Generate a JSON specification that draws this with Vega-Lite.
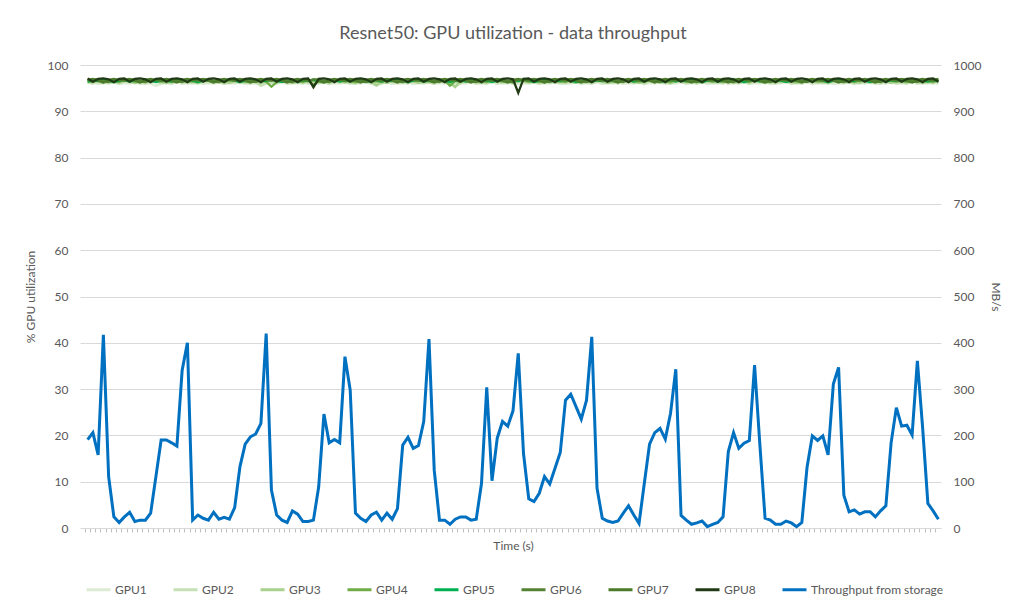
{
"$schema":"https://vega.github.io/schema/vega-lite/v6.json",
"width":856,"height":463,
"autosize":{"type":"none"},
"padding":{"left":85,"top":65,"right":70,"bottom":84},
"background":"white",
"config":{"font":"Lato","view":{"stroke":null},"axis":{"labelColor":"#595959","titleColor":"#595959","labelFontSize":12,"titleFontSize":12,"titleFontWeight":"normal","labelFont":"Lato","titleFont":"Lato"}},
"title":{"text":"Resnet50: GPU utilization - data throughput","fontSize":18,"fontWeight":"normal","color":"#595959","offset":16,"anchor":"middle","font":"Lato"},
"data":{"values":[
{"t":1,"GPU1":96.0,"GPU2":96.2,"GPU3":96.3,"GPU4":96.5,"GPU5":96.4,"GPU6":96.6,"GPU7":96.8,"GPU8":97.1,"tp":191},
{"t":2,"GPU1":96.3,"GPU2":96.0,"GPU3":96.6,"GPU4":96.3,"GPU5":96.7,"GPU6":96.9,"GPU7":97.0,"GPU8":96.4,"tp":206},
{"t":3,"GPU1":95.9,"GPU2":96.4,"GPU3":96.4,"GPU4":96.8,"GPU5":96.5,"GPU6":96.9,"GPU7":96.6,"GPU8":97.0,"tp":158},
{"t":4,"GPU1":96.1,"GPU2":96.3,"GPU3":96.1,"GPU4":96.6,"GPU5":96.9,"GPU6":96.5,"GPU7":96.2,"GPU8":97.1,"tp":417},
{"t":5,"GPU1":96.0,"GPU2":96.1,"GPU3":96.5,"GPU4":96.4,"GPU5":96.6,"GPU6":96.3,"GPU7":96.8,"GPU8":96.9,"tp":111},
{"t":6,"GPU1":96.3,"GPU2":96.2,"GPU3":96.6,"GPU4":96.5,"GPU5":96.3,"GPU6":96.8,"GPU7":97.0,"GPU8":96.3,"tp":24},
{"t":7,"GPU1":95.9,"GPU2":96.0,"GPU3":96.3,"GPU4":96.3,"GPU5":96.6,"GPU6":96.9,"GPU7":96.7,"GPU8":97.0,"tp":12},
{"t":8,"GPU1":96.1,"GPU2":96.4,"GPU3":96.6,"GPU4":96.8,"GPU5":96.8,"GPU6":96.6,"GPU7":96.8,"GPU8":97.1,"tp":24},
{"t":9,"GPU1":96.0,"GPU2":96.3,"GPU3":96.4,"GPU4":96.6,"GPU5":96.4,"GPU6":96.9,"GPU7":97.0,"GPU8":96.4,"tp":34},
{"t":10,"GPU1":96.3,"GPU2":96.1,"GPU3":96.1,"GPU4":96.4,"GPU5":96.7,"GPU6":96.9,"GPU7":96.6,"GPU8":97.0,"tp":14},
{"t":11,"GPU1":95.9,"GPU2":96.2,"GPU3":96.5,"GPU4":96.5,"GPU5":96.5,"GPU6":96.5,"GPU7":96.2,"GPU8":97.1,"tp":17},
{"t":12,"GPU1":96.1,"GPU2":96.0,"GPU3":96.6,"GPU4":96.3,"GPU5":96.9,"GPU6":96.3,"GPU7":96.8,"GPU8":96.9,"tp":17},
{"t":13,"GPU1":96.0,"GPU2":96.4,"GPU3":96.3,"GPU4":96.8,"GPU5":96.6,"GPU6":96.8,"GPU7":97.0,"GPU8":96.3,"tp":32},
{"t":14,"GPU1":95.5,"GPU2":96.3,"GPU3":96.6,"GPU4":96.6,"GPU5":96.3,"GPU6":96.9,"GPU7":96.7,"GPU8":97.0,"tp":111},
{"t":15,"GPU1":95.9,"GPU2":96.1,"GPU3":96.4,"GPU4":96.4,"GPU5":96.6,"GPU6":96.6,"GPU7":96.8,"GPU8":97.1,"tp":190},
{"t":16,"GPU1":96.1,"GPU2":96.2,"GPU3":96.1,"GPU4":96.5,"GPU5":96.8,"GPU6":96.9,"GPU7":97.0,"GPU8":96.4,"tp":190},
{"t":17,"GPU1":96.0,"GPU2":96.0,"GPU3":96.5,"GPU4":96.3,"GPU5":96.4,"GPU6":96.9,"GPU7":96.6,"GPU8":97.0,"tp":184},
{"t":18,"GPU1":96.3,"GPU2":96.4,"GPU3":96.6,"GPU4":96.8,"GPU5":96.7,"GPU6":96.5,"GPU7":96.2,"GPU8":97.1,"tp":177},
{"t":19,"GPU1":95.9,"GPU2":96.3,"GPU3":96.3,"GPU4":96.6,"GPU5":96.5,"GPU6":96.3,"GPU7":96.8,"GPU8":96.9,"tp":341},
{"t":20,"GPU1":96.1,"GPU2":96.1,"GPU3":96.6,"GPU4":96.4,"GPU5":96.9,"GPU6":96.8,"GPU7":97.0,"GPU8":96.3,"tp":400},
{"t":21,"GPU1":96.0,"GPU2":96.2,"GPU3":96.4,"GPU4":96.5,"GPU5":96.6,"GPU6":96.9,"GPU7":96.7,"GPU8":97.0,"tp":17},
{"t":22,"GPU1":96.3,"GPU2":96.0,"GPU3":96.1,"GPU4":96.3,"GPU5":96.3,"GPU6":96.6,"GPU7":96.8,"GPU8":97.1,"tp":28},
{"t":23,"GPU1":95.9,"GPU2":96.4,"GPU3":96.5,"GPU4":96.8,"GPU5":96.6,"GPU6":96.9,"GPU7":97.0,"GPU8":96.4,"tp":21},
{"t":24,"GPU1":96.1,"GPU2":96.3,"GPU3":96.6,"GPU4":96.6,"GPU5":96.8,"GPU6":96.9,"GPU7":96.6,"GPU8":97.0,"tp":17},
{"t":25,"GPU1":96.0,"GPU2":96.1,"GPU3":96.3,"GPU4":96.4,"GPU5":96.4,"GPU6":96.5,"GPU7":96.2,"GPU8":97.1,"tp":34},
{"t":26,"GPU1":96.3,"GPU2":96.2,"GPU3":96.6,"GPU4":96.5,"GPU5":96.7,"GPU6":96.3,"GPU7":96.8,"GPU8":96.9,"tp":19},
{"t":27,"GPU1":95.9,"GPU2":96.0,"GPU3":96.4,"GPU4":96.3,"GPU5":96.5,"GPU6":96.8,"GPU7":97.0,"GPU8":96.3,"tp":23},
{"t":28,"GPU1":96.1,"GPU2":96.4,"GPU3":96.1,"GPU4":96.8,"GPU5":96.9,"GPU6":96.9,"GPU7":96.7,"GPU8":97.0,"tp":19},
{"t":29,"GPU1":96.0,"GPU2":96.3,"GPU3":96.5,"GPU4":96.6,"GPU5":96.6,"GPU6":96.6,"GPU7":96.8,"GPU8":97.1,"tp":44},
{"t":30,"GPU1":96.3,"GPU2":96.1,"GPU3":96.6,"GPU4":96.4,"GPU5":96.3,"GPU6":96.9,"GPU7":97.0,"GPU8":96.4,"tp":132},
{"t":31,"GPU1":95.9,"GPU2":96.2,"GPU3":96.3,"GPU4":96.5,"GPU5":96.6,"GPU6":96.9,"GPU7":96.6,"GPU8":97.0,"tp":181},
{"t":32,"GPU1":96.1,"GPU2":96.0,"GPU3":96.6,"GPU4":96.3,"GPU5":96.8,"GPU6":96.5,"GPU7":96.2,"GPU8":97.1,"tp":197},
{"t":33,"GPU1":96.0,"GPU2":96.4,"GPU3":96.4,"GPU4":96.8,"GPU5":96.4,"GPU6":96.3,"GPU7":96.8,"GPU8":96.9,"tp":203},
{"t":34,"GPU1":95.6,"GPU2":95.5,"GPU3":96.1,"GPU4":96.6,"GPU5":96.7,"GPU6":96.8,"GPU7":97.0,"GPU8":96.3,"tp":226},
{"t":35,"GPU1":95.9,"GPU2":96.1,"GPU3":96.5,"GPU4":96.4,"GPU5":96.5,"GPU6":96.9,"GPU7":96.7,"GPU8":97.0,"tp":420},
{"t":36,"GPU1":96.1,"GPU2":96.2,"GPU3":96.6,"GPU4":95.3,"GPU5":96.9,"GPU6":96.6,"GPU7":96.8,"GPU8":97.1,"tp":82},
{"t":37,"GPU1":96.0,"GPU2":96.0,"GPU3":96.3,"GPU4":96.3,"GPU5":96.6,"GPU6":96.9,"GPU7":97.0,"GPU8":96.4,"tp":28},
{"t":38,"GPU1":96.3,"GPU2":96.4,"GPU3":96.6,"GPU4":96.8,"GPU5":96.3,"GPU6":96.9,"GPU7":96.6,"GPU8":97.0,"tp":17},
{"t":39,"GPU1":95.9,"GPU2":96.3,"GPU3":96.4,"GPU4":96.6,"GPU5":96.6,"GPU6":96.5,"GPU7":96.2,"GPU8":97.1,"tp":12},
{"t":40,"GPU1":96.1,"GPU2":96.1,"GPU3":96.1,"GPU4":96.4,"GPU5":96.8,"GPU6":96.3,"GPU7":96.8,"GPU8":96.9,"tp":37},
{"t":41,"GPU1":96.0,"GPU2":96.2,"GPU3":96.5,"GPU4":96.5,"GPU5":96.4,"GPU6":96.8,"GPU7":97.0,"GPU8":96.3,"tp":30},
{"t":42,"GPU1":96.3,"GPU2":96.0,"GPU3":96.6,"GPU4":96.3,"GPU5":96.7,"GPU6":96.9,"GPU7":96.7,"GPU8":97.0,"tp":14},
{"t":43,"GPU1":95.9,"GPU2":96.4,"GPU3":96.3,"GPU4":96.8,"GPU5":96.5,"GPU6":96.6,"GPU7":96.8,"GPU8":97.1,"tp":14},
{"t":44,"GPU1":96.1,"GPU2":96.3,"GPU3":96.6,"GPU4":96.6,"GPU5":96.9,"GPU6":96.9,"GPU7":95.6,"GPU8":95.2,"tp":17},
{"t":45,"GPU1":96.0,"GPU2":96.1,"GPU3":96.4,"GPU4":96.4,"GPU5":96.6,"GPU6":96.9,"GPU7":96.6,"GPU8":97.0,"tp":89},
{"t":46,"GPU1":96.3,"GPU2":96.2,"GPU3":96.1,"GPU4":96.5,"GPU5":96.3,"GPU6":96.5,"GPU7":96.2,"GPU8":97.1,"tp":246},
{"t":47,"GPU1":95.9,"GPU2":96.0,"GPU3":96.5,"GPU4":96.3,"GPU5":96.6,"GPU6":96.3,"GPU7":96.8,"GPU8":96.9,"tp":184},
{"t":48,"GPU1":96.1,"GPU2":96.4,"GPU3":96.6,"GPU4":96.8,"GPU5":96.8,"GPU6":96.8,"GPU7":97.0,"GPU8":96.3,"tp":191},
{"t":49,"GPU1":96.0,"GPU2":96.3,"GPU3":96.3,"GPU4":96.6,"GPU5":96.4,"GPU6":96.9,"GPU7":96.7,"GPU8":97.0,"tp":184},
{"t":50,"GPU1":96.3,"GPU2":96.1,"GPU3":96.6,"GPU4":96.4,"GPU5":96.7,"GPU6":96.6,"GPU7":96.8,"GPU8":97.1,"tp":370},
{"t":51,"GPU1":95.9,"GPU2":96.2,"GPU3":96.4,"GPU4":96.5,"GPU5":96.5,"GPU6":96.9,"GPU7":97.0,"GPU8":96.4,"tp":298},
{"t":52,"GPU1":96.1,"GPU2":96.0,"GPU3":96.1,"GPU4":96.3,"GPU5":96.9,"GPU6":96.9,"GPU7":96.6,"GPU8":97.0,"tp":32},
{"t":53,"GPU1":96.0,"GPU2":96.4,"GPU3":96.5,"GPU4":96.8,"GPU5":96.6,"GPU6":96.5,"GPU7":96.2,"GPU8":97.1,"tp":21},
{"t":54,"GPU1":96.3,"GPU2":96.3,"GPU3":96.6,"GPU4":96.6,"GPU5":96.3,"GPU6":96.3,"GPU7":96.8,"GPU8":96.9,"tp":14},
{"t":55,"GPU1":95.9,"GPU2":96.1,"GPU3":96.3,"GPU4":96.4,"GPU5":96.6,"GPU6":96.8,"GPU7":97.0,"GPU8":96.3,"tp":28},
{"t":56,"GPU1":95.5,"GPU2":96.2,"GPU3":95.6,"GPU4":96.5,"GPU5":96.8,"GPU6":96.9,"GPU7":96.7,"GPU8":97.0,"tp":34},
{"t":57,"GPU1":96.0,"GPU2":96.0,"GPU3":96.4,"GPU4":96.3,"GPU5":96.4,"GPU6":96.6,"GPU7":96.8,"GPU8":97.1,"tp":17},
{"t":58,"GPU1":96.3,"GPU2":96.4,"GPU3":96.1,"GPU4":96.8,"GPU5":96.7,"GPU6":96.9,"GPU7":97.0,"GPU8":96.4,"tp":32},
{"t":59,"GPU1":95.9,"GPU2":96.3,"GPU3":96.5,"GPU4":96.6,"GPU5":96.5,"GPU6":96.9,"GPU7":96.6,"GPU8":97.0,"tp":19},
{"t":60,"GPU1":96.1,"GPU2":96.1,"GPU3":96.6,"GPU4":96.4,"GPU5":96.9,"GPU6":96.5,"GPU7":96.2,"GPU8":97.1,"tp":42},
{"t":61,"GPU1":96.0,"GPU2":96.2,"GPU3":96.3,"GPU4":96.5,"GPU5":96.6,"GPU6":96.3,"GPU7":96.8,"GPU8":96.9,"tp":179},
{"t":62,"GPU1":96.3,"GPU2":96.0,"GPU3":96.6,"GPU4":96.3,"GPU5":96.3,"GPU6":96.8,"GPU7":97.0,"GPU8":96.3,"tp":196},
{"t":63,"GPU1":95.9,"GPU2":96.4,"GPU3":96.4,"GPU4":96.8,"GPU5":96.6,"GPU6":96.9,"GPU7":96.7,"GPU8":97.0,"tp":172},
{"t":64,"GPU1":96.1,"GPU2":96.3,"GPU3":96.1,"GPU4":96.6,"GPU5":96.8,"GPU6":96.6,"GPU7":96.8,"GPU8":97.1,"tp":178},
{"t":65,"GPU1":96.0,"GPU2":96.1,"GPU3":96.5,"GPU4":96.4,"GPU5":96.4,"GPU6":96.9,"GPU7":97.0,"GPU8":96.4,"tp":230},
{"t":66,"GPU1":96.3,"GPU2":96.2,"GPU3":96.6,"GPU4":96.5,"GPU5":96.7,"GPU6":96.9,"GPU7":96.6,"GPU8":97.0,"tp":408},
{"t":67,"GPU1":95.9,"GPU2":96.0,"GPU3":96.3,"GPU4":96.3,"GPU5":96.5,"GPU6":96.5,"GPU7":96.2,"GPU8":97.1,"tp":125},
{"t":68,"GPU1":96.1,"GPU2":96.4,"GPU3":96.6,"GPU4":96.8,"GPU5":96.9,"GPU6":96.3,"GPU7":96.8,"GPU8":96.9,"tp":17},
{"t":69,"GPU1":96.0,"GPU2":96.3,"GPU3":96.4,"GPU4":96.6,"GPU5":96.6,"GPU6":96.8,"GPU7":97.0,"GPU8":96.3,"tp":17},
{"t":70,"GPU1":96.3,"GPU2":96.1,"GPU3":96.1,"GPU4":95.5,"GPU5":96.3,"GPU6":96.9,"GPU7":96.7,"GPU8":97.0,"tp":8},
{"t":71,"GPU1":95.9,"GPU2":95.4,"GPU3":95.2,"GPU4":96.5,"GPU5":96.6,"GPU6":96.6,"GPU7":96.8,"GPU8":97.1,"tp":19},
{"t":72,"GPU1":96.1,"GPU2":96.0,"GPU3":96.6,"GPU4":96.3,"GPU5":96.8,"GPU6":96.9,"GPU7":97.0,"GPU8":96.4,"tp":24},
{"t":73,"GPU1":96.0,"GPU2":96.4,"GPU3":96.3,"GPU4":96.8,"GPU5":96.4,"GPU6":96.9,"GPU7":96.6,"GPU8":97.0,"tp":24},
{"t":74,"GPU1":96.3,"GPU2":96.3,"GPU3":96.6,"GPU4":96.6,"GPU5":96.7,"GPU6":96.5,"GPU7":96.2,"GPU8":97.1,"tp":17},
{"t":75,"GPU1":95.9,"GPU2":96.1,"GPU3":96.4,"GPU4":96.4,"GPU5":96.5,"GPU6":96.3,"GPU7":96.8,"GPU8":96.9,"tp":19},
{"t":76,"GPU1":96.1,"GPU2":96.2,"GPU3":96.1,"GPU4":96.5,"GPU5":96.9,"GPU6":96.8,"GPU7":97.0,"GPU8":96.3,"tp":96},
{"t":77,"GPU1":96.0,"GPU2":96.0,"GPU3":96.5,"GPU4":96.3,"GPU5":96.6,"GPU6":96.9,"GPU7":96.7,"GPU8":97.0,"tp":304},
{"t":78,"GPU1":96.3,"GPU2":96.4,"GPU3":96.6,"GPU4":96.8,"GPU5":96.3,"GPU6":96.6,"GPU7":96.8,"GPU8":97.1,"tp":102},
{"t":79,"GPU1":95.9,"GPU2":96.3,"GPU3":96.3,"GPU4":96.6,"GPU5":96.6,"GPU6":96.9,"GPU7":97.0,"GPU8":96.4,"tp":194},
{"t":80,"GPU1":96.1,"GPU2":96.1,"GPU3":96.6,"GPU4":96.4,"GPU5":96.8,"GPU6":96.9,"GPU7":96.6,"GPU8":97.0,"tp":230},
{"t":81,"GPU1":96.0,"GPU2":96.2,"GPU3":96.4,"GPU4":96.5,"GPU5":96.4,"GPU6":96.5,"GPU7":96.2,"GPU8":97.1,"tp":220},
{"t":82,"GPU1":96.3,"GPU2":96.0,"GPU3":96.1,"GPU4":96.3,"GPU5":96.7,"GPU6":96.3,"GPU7":96.8,"GPU8":96.9,"tp":253},
{"t":83,"GPU1":95.9,"GPU2":96.4,"GPU3":96.5,"GPU4":96.8,"GPU5":96.5,"GPU6":96.8,"GPU7":97.0,"GPU8":94.0,"tp":377},
{"t":84,"GPU1":96.1,"GPU2":96.3,"GPU3":96.6,"GPU4":96.6,"GPU5":96.9,"GPU6":96.9,"GPU7":96.7,"GPU8":97.0,"tp":161},
{"t":85,"GPU1":96.0,"GPU2":96.1,"GPU3":96.3,"GPU4":96.4,"GPU5":96.6,"GPU6":96.6,"GPU7":96.8,"GPU8":97.1,"tp":63},
{"t":86,"GPU1":96.3,"GPU2":96.2,"GPU3":96.6,"GPU4":96.5,"GPU5":96.3,"GPU6":96.9,"GPU7":97.0,"GPU8":96.4,"tp":57},
{"t":87,"GPU1":95.9,"GPU2":96.0,"GPU3":96.4,"GPU4":96.3,"GPU5":96.6,"GPU6":96.9,"GPU7":96.6,"GPU8":97.0,"tp":75},
{"t":88,"GPU1":96.1,"GPU2":96.4,"GPU3":96.1,"GPU4":96.8,"GPU5":96.8,"GPU6":96.5,"GPU7":96.2,"GPU8":97.1,"tp":111},
{"t":89,"GPU1":96.0,"GPU2":96.3,"GPU3":96.5,"GPU4":96.6,"GPU5":96.4,"GPU6":96.3,"GPU7":96.8,"GPU8":96.9,"tp":95},
{"t":90,"GPU1":96.3,"GPU2":96.1,"GPU3":96.6,"GPU4":96.4,"GPU5":96.7,"GPU6":96.8,"GPU7":97.0,"GPU8":96.3,"tp":129},
{"t":91,"GPU1":95.9,"GPU2":96.2,"GPU3":96.3,"GPU4":96.5,"GPU5":96.5,"GPU6":96.9,"GPU7":96.7,"GPU8":97.0,"tp":163},
{"t":92,"GPU1":96.1,"GPU2":96.0,"GPU3":96.6,"GPU4":96.3,"GPU5":96.9,"GPU6":96.6,"GPU7":96.8,"GPU8":97.1,"tp":276},
{"t":93,"GPU1":96.0,"GPU2":96.4,"GPU3":96.4,"GPU4":96.8,"GPU5":96.6,"GPU6":96.9,"GPU7":97.0,"GPU8":96.4,"tp":289},
{"t":94,"GPU1":96.3,"GPU2":96.3,"GPU3":96.1,"GPU4":96.6,"GPU5":96.3,"GPU6":96.9,"GPU7":96.6,"GPU8":97.0,"tp":262},
{"t":95,"GPU1":95.9,"GPU2":96.1,"GPU3":96.5,"GPU4":96.4,"GPU5":96.6,"GPU6":96.5,"GPU7":96.2,"GPU8":97.1,"tp":235},
{"t":96,"GPU1":96.1,"GPU2":96.2,"GPU3":96.6,"GPU4":96.5,"GPU5":96.8,"GPU6":96.3,"GPU7":96.8,"GPU8":96.9,"tp":276},
{"t":97,"GPU1":96.0,"GPU2":96.0,"GPU3":96.3,"GPU4":96.3,"GPU5":96.4,"GPU6":96.8,"GPU7":97.0,"GPU8":96.3,"tp":413},
{"t":98,"GPU1":96.3,"GPU2":96.4,"GPU3":96.6,"GPU4":96.8,"GPU5":96.7,"GPU6":96.9,"GPU7":96.7,"GPU8":97.0,"tp":86},
{"t":99,"GPU1":95.9,"GPU2":96.3,"GPU3":96.4,"GPU4":96.6,"GPU5":96.5,"GPU6":96.6,"GPU7":96.8,"GPU8":97.1,"tp":21},
{"t":100,"GPU1":96.1,"GPU2":96.1,"GPU3":96.1,"GPU4":96.4,"GPU5":96.9,"GPU6":96.9,"GPU7":97.0,"GPU8":96.4,"tp":15},
{"t":101,"GPU1":96.0,"GPU2":96.2,"GPU3":96.5,"GPU4":96.5,"GPU5":96.6,"GPU6":96.9,"GPU7":96.6,"GPU8":97.0,"tp":12},
{"t":102,"GPU1":96.3,"GPU2":96.0,"GPU3":96.6,"GPU4":96.3,"GPU5":96.3,"GPU6":96.5,"GPU7":96.2,"GPU8":97.1,"tp":15},
{"t":103,"GPU1":95.9,"GPU2":96.4,"GPU3":96.3,"GPU4":96.8,"GPU5":96.6,"GPU6":96.3,"GPU7":96.8,"GPU8":96.9,"tp":32},
{"t":104,"GPU1":96.1,"GPU2":96.3,"GPU3":96.6,"GPU4":96.6,"GPU5":96.8,"GPU6":96.8,"GPU7":97.0,"GPU8":96.3,"tp":48},
{"t":105,"GPU1":96.0,"GPU2":96.1,"GPU3":96.4,"GPU4":96.4,"GPU5":96.4,"GPU6":96.9,"GPU7":96.7,"GPU8":97.0,"tp":28},
{"t":106,"GPU1":96.3,"GPU2":96.2,"GPU3":96.1,"GPU4":96.5,"GPU5":96.7,"GPU6":96.6,"GPU7":96.8,"GPU8":97.1,"tp":10},
{"t":107,"GPU1":95.9,"GPU2":96.0,"GPU3":96.5,"GPU4":96.3,"GPU5":96.5,"GPU6":96.9,"GPU7":97.0,"GPU8":96.4,"tp":96},
{"t":108,"GPU1":96.1,"GPU2":96.4,"GPU3":96.6,"GPU4":96.8,"GPU5":96.9,"GPU6":96.9,"GPU7":96.6,"GPU8":97.0,"tp":181},
{"t":109,"GPU1":96.0,"GPU2":96.3,"GPU3":96.3,"GPU4":96.6,"GPU5":96.6,"GPU6":96.5,"GPU7":96.2,"GPU8":97.1,"tp":206},
{"t":110,"GPU1":96.3,"GPU2":96.1,"GPU3":96.6,"GPU4":96.4,"GPU5":96.3,"GPU6":96.3,"GPU7":96.8,"GPU8":96.9,"tp":215},
{"t":111,"GPU1":95.9,"GPU2":96.2,"GPU3":96.4,"GPU4":96.5,"GPU5":96.6,"GPU6":96.8,"GPU7":97.0,"GPU8":96.3,"tp":192},
{"t":112,"GPU1":96.1,"GPU2":96.0,"GPU3":96.1,"GPU4":96.3,"GPU5":96.8,"GPU6":96.9,"GPU7":96.7,"GPU8":97.0,"tp":248},
{"t":113,"GPU1":96.0,"GPU2":96.4,"GPU3":96.5,"GPU4":96.8,"GPU5":96.4,"GPU6":96.6,"GPU7":96.8,"GPU8":97.1,"tp":343},
{"t":114,"GPU1":96.3,"GPU2":96.3,"GPU3":96.6,"GPU4":96.6,"GPU5":96.7,"GPU6":96.9,"GPU7":97.0,"GPU8":96.4,"tp":27},
{"t":115,"GPU1":95.9,"GPU2":96.1,"GPU3":96.3,"GPU4":96.4,"GPU5":96.5,"GPU6":96.9,"GPU7":96.6,"GPU8":97.0,"tp":17},
{"t":116,"GPU1":96.1,"GPU2":96.2,"GPU3":96.6,"GPU4":96.5,"GPU5":96.9,"GPU6":96.5,"GPU7":96.2,"GPU8":97.1,"tp":8},
{"t":117,"GPU1":96.0,"GPU2":96.0,"GPU3":96.4,"GPU4":96.3,"GPU5":96.6,"GPU6":96.3,"GPU7":96.8,"GPU8":96.9,"tp":11},
{"t":118,"GPU1":96.3,"GPU2":96.4,"GPU3":96.1,"GPU4":96.8,"GPU5":96.3,"GPU6":96.8,"GPU7":97.0,"GPU8":96.3,"tp":15},
{"t":119,"GPU1":95.9,"GPU2":96.3,"GPU3":96.5,"GPU4":96.6,"GPU5":96.6,"GPU6":96.9,"GPU7":96.7,"GPU8":97.0,"tp":3},
{"t":120,"GPU1":96.1,"GPU2":96.1,"GPU3":96.6,"GPU4":96.4,"GPU5":96.8,"GPU6":96.6,"GPU7":96.8,"GPU8":97.1,"tp":8},
{"t":121,"GPU1":96.0,"GPU2":96.2,"GPU3":96.3,"GPU4":96.5,"GPU5":96.4,"GPU6":96.9,"GPU7":97.0,"GPU8":96.4,"tp":12},
{"t":122,"GPU1":96.3,"GPU2":96.0,"GPU3":96.6,"GPU4":96.3,"GPU5":96.7,"GPU6":96.9,"GPU7":96.6,"GPU8":97.0,"tp":24},
{"t":123,"GPU1":95.9,"GPU2":96.4,"GPU3":96.4,"GPU4":96.8,"GPU5":96.5,"GPU6":96.5,"GPU7":96.2,"GPU8":97.1,"tp":165},
{"t":124,"GPU1":96.1,"GPU2":96.3,"GPU3":96.1,"GPU4":96.6,"GPU5":96.9,"GPU6":96.3,"GPU7":96.8,"GPU8":96.9,"tp":206},
{"t":125,"GPU1":96.0,"GPU2":96.1,"GPU3":96.5,"GPU4":96.4,"GPU5":96.6,"GPU6":96.8,"GPU7":97.0,"GPU8":96.3,"tp":172},
{"t":126,"GPU1":96.3,"GPU2":96.2,"GPU3":96.6,"GPU4":96.5,"GPU5":96.3,"GPU6":96.9,"GPU7":96.7,"GPU8":97.0,"tp":183},
{"t":127,"GPU1":95.9,"GPU2":96.0,"GPU3":96.3,"GPU4":96.3,"GPU5":96.6,"GPU6":96.6,"GPU7":96.8,"GPU8":97.1,"tp":189},
{"t":128,"GPU1":96.1,"GPU2":96.4,"GPU3":96.6,"GPU4":96.8,"GPU5":96.8,"GPU6":96.9,"GPU7":97.0,"GPU8":96.4,"tp":352},
{"t":129,"GPU1":96.0,"GPU2":96.3,"GPU3":96.4,"GPU4":96.6,"GPU5":96.4,"GPU6":96.9,"GPU7":96.6,"GPU8":97.0,"tp":181},
{"t":130,"GPU1":96.3,"GPU2":96.1,"GPU3":96.1,"GPU4":96.4,"GPU5":96.7,"GPU6":96.5,"GPU7":96.2,"GPU8":97.1,"tp":21},
{"t":131,"GPU1":95.9,"GPU2":96.2,"GPU3":96.5,"GPU4":96.5,"GPU5":96.5,"GPU6":96.3,"GPU7":96.8,"GPU8":96.9,"tp":17},
{"t":132,"GPU1":96.1,"GPU2":96.0,"GPU3":96.6,"GPU4":96.3,"GPU5":96.9,"GPU6":96.8,"GPU7":97.0,"GPU8":96.3,"tp":8},
{"t":133,"GPU1":96.0,"GPU2":96.4,"GPU3":96.3,"GPU4":96.8,"GPU5":96.6,"GPU6":96.9,"GPU7":96.7,"GPU8":97.0,"tp":8},
{"t":134,"GPU1":96.3,"GPU2":96.3,"GPU3":96.6,"GPU4":96.6,"GPU5":96.3,"GPU6":96.6,"GPU7":96.8,"GPU8":97.1,"tp":15},
{"t":135,"GPU1":95.9,"GPU2":96.1,"GPU3":96.4,"GPU4":96.4,"GPU5":96.6,"GPU6":96.9,"GPU7":97.0,"GPU8":96.4,"tp":11},
{"t":136,"GPU1":96.1,"GPU2":96.2,"GPU3":96.1,"GPU4":96.5,"GPU5":96.8,"GPU6":96.9,"GPU7":96.6,"GPU8":97.0,"tp":3},
{"t":137,"GPU1":96.0,"GPU2":96.0,"GPU3":96.5,"GPU4":96.3,"GPU5":96.4,"GPU6":96.5,"GPU7":96.2,"GPU8":97.1,"tp":12},
{"t":138,"GPU1":96.3,"GPU2":96.4,"GPU3":96.6,"GPU4":96.8,"GPU5":96.7,"GPU6":96.3,"GPU7":96.8,"GPU8":96.9,"tp":132},
{"t":139,"GPU1":95.9,"GPU2":96.3,"GPU3":96.3,"GPU4":96.6,"GPU5":96.5,"GPU6":96.8,"GPU7":97.0,"GPU8":96.3,"tp":199},
{"t":140,"GPU1":96.1,"GPU2":96.1,"GPU3":96.6,"GPU4":96.4,"GPU5":96.9,"GPU6":96.9,"GPU7":96.7,"GPU8":97.0,"tp":189},
{"t":141,"GPU1":96.0,"GPU2":96.2,"GPU3":96.4,"GPU4":96.5,"GPU5":96.6,"GPU6":96.6,"GPU7":96.8,"GPU8":97.1,"tp":199},
{"t":142,"GPU1":96.3,"GPU2":96.0,"GPU3":96.1,"GPU4":96.3,"GPU5":96.3,"GPU6":96.9,"GPU7":97.0,"GPU8":96.4,"tp":158},
{"t":143,"GPU1":95.9,"GPU2":96.4,"GPU3":96.5,"GPU4":96.8,"GPU5":96.6,"GPU6":96.9,"GPU7":96.6,"GPU8":97.0,"tp":311},
{"t":144,"GPU1":96.1,"GPU2":96.3,"GPU3":96.6,"GPU4":96.6,"GPU5":96.8,"GPU6":96.5,"GPU7":96.2,"GPU8":97.1,"tp":347},
{"t":145,"GPU1":96.0,"GPU2":96.1,"GPU3":96.3,"GPU4":96.4,"GPU5":96.4,"GPU6":96.3,"GPU7":96.8,"GPU8":96.9,"tp":71},
{"t":146,"GPU1":96.3,"GPU2":96.2,"GPU3":96.6,"GPU4":96.5,"GPU5":96.7,"GPU6":96.8,"GPU7":97.0,"GPU8":96.3,"tp":35},
{"t":147,"GPU1":95.9,"GPU2":96.0,"GPU3":96.4,"GPU4":96.3,"GPU5":96.5,"GPU6":96.9,"GPU7":96.7,"GPU8":97.0,"tp":39},
{"t":148,"GPU1":96.1,"GPU2":96.4,"GPU3":96.1,"GPU4":96.8,"GPU5":96.9,"GPU6":96.6,"GPU7":96.8,"GPU8":97.1,"tp":30},
{"t":149,"GPU1":96.0,"GPU2":96.3,"GPU3":96.5,"GPU4":96.6,"GPU5":96.6,"GPU6":96.9,"GPU7":97.0,"GPU8":96.4,"tp":35},
{"t":150,"GPU1":96.3,"GPU2":96.1,"GPU3":96.6,"GPU4":96.4,"GPU5":96.3,"GPU6":96.9,"GPU7":96.6,"GPU8":97.0,"tp":35},
{"t":151,"GPU1":95.9,"GPU2":96.2,"GPU3":96.3,"GPU4":96.5,"GPU5":96.6,"GPU6":96.5,"GPU7":96.2,"GPU8":97.1,"tp":24},
{"t":152,"GPU1":96.1,"GPU2":96.0,"GPU3":96.6,"GPU4":96.3,"GPU5":96.8,"GPU6":96.3,"GPU7":96.8,"GPU8":96.9,"tp":37},
{"t":153,"GPU1":96.0,"GPU2":96.4,"GPU3":96.4,"GPU4":96.8,"GPU5":96.4,"GPU6":96.8,"GPU7":97.0,"GPU8":96.3,"tp":48},
{"t":154,"GPU1":96.3,"GPU2":96.3,"GPU3":96.1,"GPU4":96.6,"GPU5":96.7,"GPU6":96.9,"GPU7":96.7,"GPU8":97.0,"tp":184},
{"t":155,"GPU1":95.9,"GPU2":96.1,"GPU3":96.5,"GPU4":96.4,"GPU5":96.5,"GPU6":96.6,"GPU7":96.8,"GPU8":97.1,"tp":260},
{"t":156,"GPU1":96.1,"GPU2":96.2,"GPU3":96.6,"GPU4":96.5,"GPU5":96.9,"GPU6":96.9,"GPU7":97.0,"GPU8":96.4,"tp":220},
{"t":157,"GPU1":96.0,"GPU2":96.0,"GPU3":96.3,"GPU4":96.3,"GPU5":96.6,"GPU6":96.9,"GPU7":96.6,"GPU8":97.0,"tp":222},
{"t":158,"GPU1":96.3,"GPU2":96.4,"GPU3":96.6,"GPU4":96.8,"GPU5":96.3,"GPU6":96.5,"GPU7":96.2,"GPU8":97.1,"tp":201},
{"t":159,"GPU1":95.9,"GPU2":96.3,"GPU3":96.4,"GPU4":96.6,"GPU5":96.6,"GPU6":96.3,"GPU7":96.8,"GPU8":96.9,"tp":361},
{"t":160,"GPU1":96.1,"GPU2":96.1,"GPU3":96.1,"GPU4":96.4,"GPU5":96.8,"GPU6":96.8,"GPU7":97.0,"GPU8":96.3,"tp":217},
{"t":161,"GPU1":96.0,"GPU2":96.2,"GPU3":96.5,"GPU4":96.5,"GPU5":96.4,"GPU6":96.9,"GPU7":96.7,"GPU8":97.0,"tp":53},
{"t":162,"GPU1":96.3,"GPU2":96.0,"GPU3":96.6,"GPU4":96.3,"GPU5":96.7,"GPU6":96.6,"GPU7":96.8,"GPU8":97.1,"tp":37},
{"t":163,"GPU1":95.9,"GPU2":96.4,"GPU3":96.3,"GPU4":96.8,"GPU5":96.5,"GPU6":96.9,"GPU7":97.0,"GPU8":96.4,"tp":19}
]},
"layer":[
{"transform":[{"fold":["GPU1","GPU2","GPU3","GPU4","GPU5","GPU6","GPU7","GPU8"],"as":["series","v"]}],
 "mark":{"type":"line","strokeWidth":2.25},
 "encoding":{
  "x":{"field":"t","type":"ordinal","scale":{"type":"band","paddingInner":0,"paddingOuter":0},"bandPosition":0.5,
       "axis":{"labels":false,"ticks":true,"tickSize":4,"tickColor":"#bfbfbf","domainColor":"#d9d9d9","bandPosition":0,"title":"Time (s)","titlePadding":8,"grid":false}},
  "y":{"field":"v","type":"quantitative","scale":{"domain":[0,100]},
       "axis":{"title":"% GPU utilization","values":[0,10,20,30,40,50,60,70,80,90,100],"grid":true,"gridColor":"#d9d9d9","domain":false,"tickSize":5,"tickColor":"#d9d9d9","labelPadding":12,"titlePadding":10}},
  "color":{"field":"series","type":"nominal",
    "scale":{"domain":["GPU1","GPU2","GPU3","GPU4","GPU5","GPU6","GPU7","GPU8","Throughput from storage"],
             "range":["#dcebd2","#c5e0b4","#a9d18e","#70ad47","#00b050","#548235","#4a7a2a","#1f3a14","#0070c0"]},
    "legend":{"title":null,"orient":"bottom","direction":"horizontal","symbolType":"stroke","symbolSize":576,"symbolStrokeWidth":3,"labelFontSize":12,"labelColor":"#595959","labelFont":"Lato","columnPadding":20,"labelOffset":3,"offset":24}}
 }},
{"mark":{"type":"line","strokeWidth":3},
 "encoding":{
  "x":{"field":"t","type":"ordinal","bandPosition":0.5},
  "y":{"field":"tp","type":"quantitative","scale":{"domain":[0,1000]},
       "axis":{"orient":"right","title":"MB/s","format":"d","values":[0,100,200,300,400,500,600,700,800,900,1000],"grid":false,"domain":false,"ticks":false,"labelPadding":12,"titlePadding":8}},
  "color":{"datum":"Throughput from storage"}
 }}
],
"resolve":{"scale":{"y":"independent"}}
}
